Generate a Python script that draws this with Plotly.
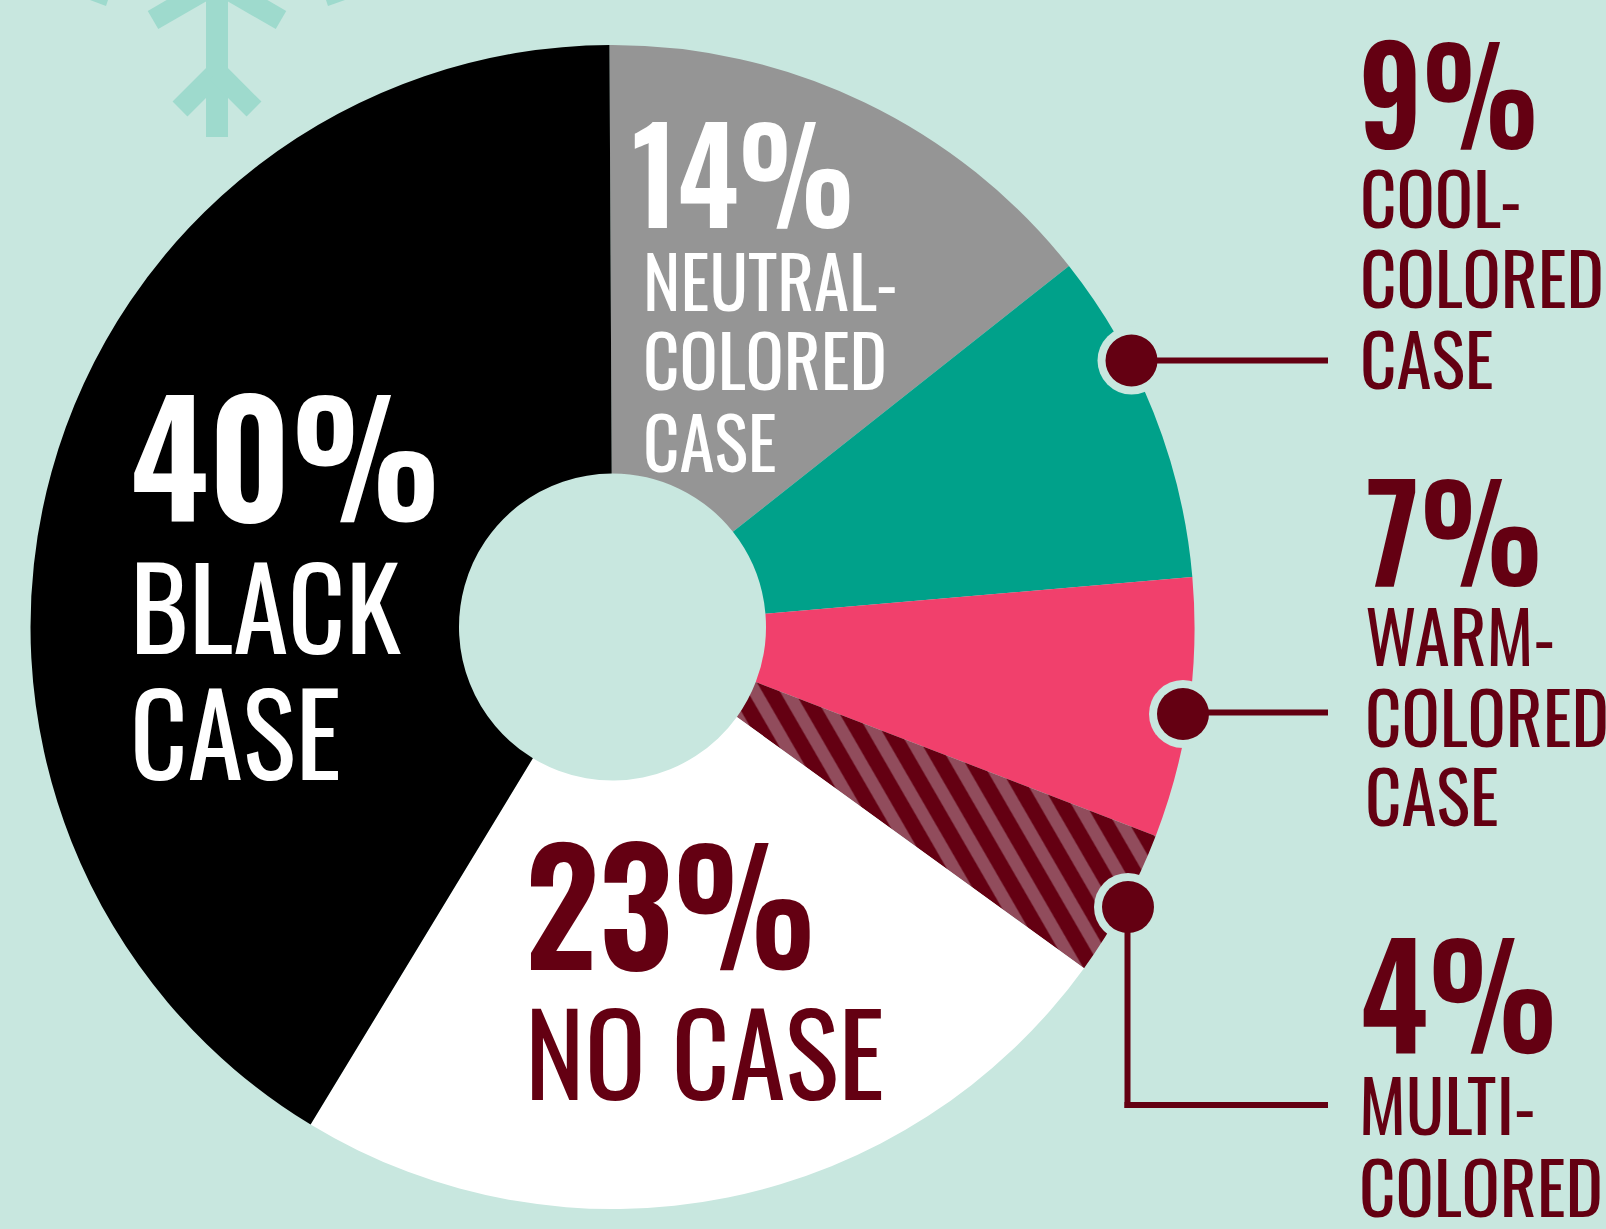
import plotly.graph_objects as go

W, H = 1606, 1229
labels = ["Neutral-colored case", "Cool-colored case", "Warm-colored case", "Multi-colored case", "No case", "Black case"]
values = [14, 9, 7, 4, 23, 40]
colors = ["#959595", "#00a18a", "#f1406c", "#640012", "#ffffff", "#000000"]
BG = "#c8e7df"
DARK = "#640012"
SNOW = "#9edacd"
FONT = "Oswald, 'Liberation Sans Narrow', 'Liberation Sans', sans-serif"

cx, cy, R, r = 612.5, 627, 582, 153.5
fig = go.Figure(go.Pie(
    labels=labels, values=values, sort=False, direction="clockwise", rotation=-0.3,
    hole=r / R, textinfo="none", hoverinfo="label+percent", showlegend=False,
    marker=dict(colors=colors, line=dict(width=0),
                pattern=dict(shape=["", "", "", "\\", "", ""], fgcolor="#914c5c", bgcolor=DARK, size=28, solidity=0.45)),
    domain=dict(x=[(cx - R) / W, (cx + R) / W], y=[1 - (cy + R) / H, 1 - (cy - R) / H]),
))

def T(x, y, s, size, color, weight=400):
    fig.add_annotation(x=x / W, y=1 - y / H, xref="paper", yref="paper", text=s,
                       showarrow=False, xanchor="left", yanchor="middle",
                       font=dict(family=FONT, size=size, color=color, weight=weight))

T(630, 170, "14%", 130, "#ffffff", 600)
T(641, 279, "NEUTRAL-", 71, "#ffffff")
T(641, 358, "COLORED", 71, "#ffffff")
T(641, 440, "CASE", 71, "#ffffff")
T(128, 451, "40%", 157, "#ffffff", 600)
T(128, 603, "BLACK", 112, "#ffffff")
T(128, 729, "CASE", 112, "#ffffff")
T(523, 899, "23%", 157, DARK, 600)
T(523, 1049, "NO CASE", 113, DARK)
T(1357, 89, "9%", 132, DARK, 600)
T(1358, 196, "COOL-", 71, DARK)
T(1358, 276, "COLORED", 71, DARK)
T(1358, 357, "CASE", 71, DARK)
T(1364, 526, "7%", 132, DARK, 600)
T(1363, 634, "WARM-", 71, DARK)
T(1363, 715, "COLORED", 71, DARK)
T(1363, 794, "CASE", 71, DARK)
T(1358, 990, "4%", 142, DARK, 600)
T(1357, 1103, "MULTI-", 71, DARK)
T(1357, 1185, "COLORED", 71, DARK)

def line(x0, y0, x1, y1, c=DARK, w=6):
    fig.add_shape(type="line", xref="paper", yref="paper", x0=x0 / W, x1=x1 / W, y0=1 - y0 / H, y1=1 - y1 / H,
                  line=dict(color=c, width=w))

def disc(x, y, rad, c):
    fig.add_shape(type="circle", xref="paper", yref="paper", x0=(x - rad) / W, x1=(x + rad) / W,
                  y0=1 - (y + rad) / H, y1=1 - (y - rad) / H, fillcolor=c, line=dict(width=0))

def poly(pts, c):
    d = "M " + " L ".join(f"{px / W:.5f},{1 - py / H:.5f}" for px, py in pts) + " Z"
    fig.add_shape(type="path", xref="paper", yref="paper", path=d, fillcolor=c, line=dict(width=0))

dots = [(1131.5, 360.5), (1183, 714), (1128, 907)]
for x, y in dots:
    disc(x, y, 34, BG)
line(1131, 360.5, 1328, 360.5)
line(1183, 712.5, 1328, 712.5)
line(1127.5, 907, 1127.5, 1108)
line(1124.5, 1105, 1328, 1105)
for x, y in dots:
    disc(x, y, 26, DARK)

# snowflake decoration
line(217, -5, 217, 137, SNOW, 22)
line(153, 20, 217, -17, SNOW, 21)
line(281, 20, 217, -17, SNOW, 21)
line(180, 109, 217, 72, SNOW, 21)
line(254, 109, 217, 72, SNOW, 21)
poly([(90, 0), (106, 6), (108, 0)], SNOW)
poly([(326, 0), (328, 6), (345, 0)], SNOW)

fig.update_layout(width=W, height=H, margin=dict(l=0, r=0, t=0, b=0), paper_bgcolor=BG, plot_bgcolor=BG)

post = """
document.body.style.margin = '0';
document.body.style.background = '%s';
var SQUEEZE = {'14%%': 0.91, '40%%': 0.97, '23%%': 0.93, '9%%': 0.90, '7%%': 0.95, '4%%': 0.93};
function touchUp() {
  document.querySelectorAll('pattern').forEach(function (p) { p.setAttribute('patternTransform', 'rotate(15)'); });
  document.querySelectorAll('.annotation-text').forEach(function (t) {
    var k = SQUEEZE[t.textContent];
    if (!k || t.getAttribute('textLength')) return;
    var w = t.getComputedTextLength();
    var x = parseFloat(t.getAttribute('x'));
    t.setAttribute('text-anchor', 'start');
    t.style.textAnchor = 'start';
    t.setAttribute('x', x - w / 2);
    t.setAttribute('textLength', w * k);
    t.setAttribute('lengthAdjust', 'spacingAndGlyphs');
  });
}
touchUp();
[0, 100, 400, 1000].forEach(function (t) { setTimeout(touchUp, t); });
""" % BG
fig.write_html("out.html", post_script=post, config={"displayModeBar": False})
